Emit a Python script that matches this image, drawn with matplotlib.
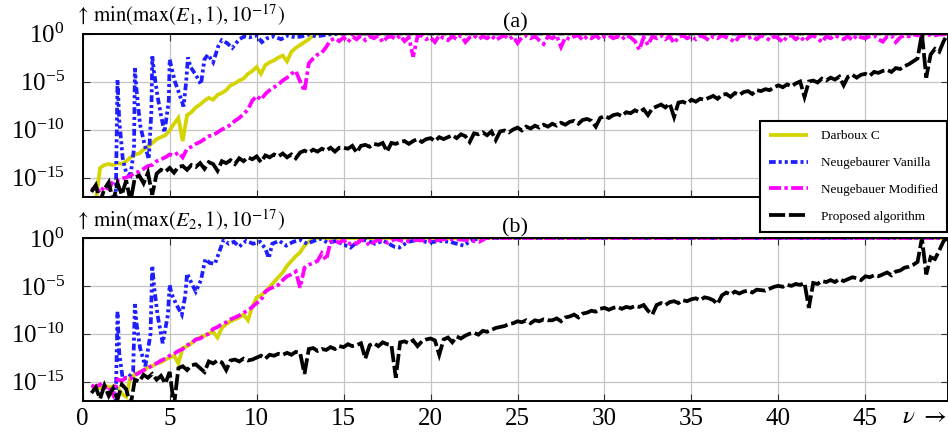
import numpy as np
import matplotlib
matplotlib.use("Agg")
import matplotlib.pyplot as plt
from matplotlib.lines import Line2D
from matplotlib.ticker import NullLocator

plt.rcParams["font.family"] = ["Liberation Serif", "DejaVu Serif"]
plt.rcParams["mathtext.fontset"] = "stix"

# sampling step (in nu) of the tabulated log10 error curves
STEP = 0.25

labels = ["Darboux C", "Neugebaurer Vanilla", "Neugebauer Modified", "Proposed algorithm"]

# ---------------- panel (a): log10 min(max(E1,1),1e-17) ----------------
a_darboux_nu0 = 0.75
a_darboux = [-17.5, -14.0, -13.7, -13.6, -13.7, -13.5, -13.6, -13.3, -12.9, -12.6, -12.5,
             -12.1, -11.8, -11.4, -11.0, -10.8, -10.6, -10.1, -9.4, -8.8, -11.2, -8.5,
             -8.2, -7.7, -7.4, -7.0, -6.7, -6.9, -6.4, -6.2, -5.9, -5.4, -5.2, -4.9, -4.7,
             -4.2, -3.9, -3.5, -4.2, -3.3, -3.0, -2.8, -2.5, -2.3, -2.9, -1.9, -1.5, -1.2,
             -0.9, -0.6, -0.2, 0.0]
a_darboux_tail_nu = [49.75]
a_darboux_tail = [0.0]

a_vanilla_nu = [1.9, 2.0, 2.1, 2.3, 2.5, 2.75, 2.95, 3.0, 3.1, 3.3, 3.55, 3.8, 3.95, 4.0, 4.1,
                4.3, 4.5, 4.7, 4.95, 5.0, 5.1, 5.3, 5.5, 5.8, 5.95, 6.05, 6.2, 6.5, 6.8, 7.0,
                7.2, 7.5, 7.8, 8.0, 8.3, 8.6, 9.0, 9.3, 9.6, 10.0, 10.3, 10.6, 11.0, 11.4,
                11.8, 12.2, 12.6, 13.0, 13.4, 13.8, 14.2, 15.0, 49.75]
a_vanilla = [-17.5, -4.8, -9.0, -13.0, -14.5, -14.8, -12.0, -3.6, -6.0, -9.5, -11.5, -13.1,
             -8.0, -2.4, -4.0, -6.5, -8.5, -10.3, -7.0, -2.7, -3.5, -5.0, -6.0, -7.6, -5.0,
             -2.5, -3.5, -4.3, -5.3, -2.7, -2.2, -3.0, -1.3, -0.7, -1.0, -1.5, -0.6, -0.3,
             -0.4, -0.2, -0.9, -0.5, -0.3, -0.6, -0.2, -0.4, -0.3, -0.1, -0.3, -0.2, -0.1,
             0.0, 0.0]

a_modified_nu0 = 0.5
a_modified = [-16.3, -16.0,
              -16.6, -15.9, -16.2, -15.4,
              -15.3, -15.1, -15.0, -14.8,
              -14.5, -14.4, -14.1, -13.8,
              -13.7, -13.3, -13.1, -12.9,
              -12.6, -12.7, -12.4, -12.9,
              -12.0, -11.8, -11.5, -11.3,
              -11.0, -10.7, -10.6, -10.3,
              -10.0, -9.8, -9.5, -9.1,
              -8.8, -8.4, -7.9, -7.0,
              -6.5, -6.9, -6.3, -5.9,
              -5.6, -5.3, -4.9, -4.6,
              -4.2, -3.9, -5.0, -6.0,
              -3.1, -2.6, -2.2, -2.0,
              -1.4, -0.7, -0.5, -0.8,
              -0.4, -0.9, -0.3, -0.6,
              -0.2, -0.7, -0.3, -0.5,
              -0.2, -0.9, -0.4, -0.3,
              -0.6, -0.2, -0.8, -0.4,
              -2.4, -0.3, -0.2, -0.6,
              -0.4, -0.9, -0.2, -0.5,
              -0.7, -0.3, -0.6, -0.2,
              -0.9, -0.4, -0.2, -0.6,
              -0.3, -0.5, -0.2, -0.7,
              -0.4, -0.2, -0.6, -0.3,
              -1.0, -0.4, -0.2, -0.5,
              -0.3, -0.7, -1.1, -0.3,
              -0.5, -0.2, -1.4, -0.4,
              -0.6, -0.3, -0.2, -0.7,
              -0.3, -0.5, -0.2, -0.6,
              -0.3, -0.2, -0.5, -0.3,
              -0.6, -0.2, -0.4, -0.8,
              -1.7, -0.4, -1.2, -0.3,
              -0.5, -0.2, -0.6, -0.3,
              -1.0, -0.4, -0.2, -0.5,
              -0.3, -0.6, -0.2, -0.4,
              -0.7, -0.3, -0.5, -0.2,
              -0.4, -0.6, -0.9, -0.3,
              -0.2, -0.5, -0.3, -0.6,
              -0.2, -0.4, -0.7, -0.3,
              -0.5, -0.9, -0.3, -0.2,
              -0.6, -0.3, -0.8, -0.4,
              -0.2, -0.5, -0.9, -0.3,
              -0.5, -0.2, -0.4, -0.6,
              -0.3, -0.7, -0.2, -0.4,
              -0.5, -0.3, -0.2, -0.6,
              -0.85, -0.3, -0.2, -0.9,
              -0.4, -0.2, -0.3, -0.1,
              -0.2, -0.1, -0.3, -0.1,
              -0.2, -0.1, -0.1, 0.0]

a_proposed_nu0 = 0.5
a_proposed = [-16.5, -15.8,
              -17.5, -16.2, -15.5, -17.5,
              -15.6, -16.8, -15.3, -17.5,
              -15.0, -14.8, -15.6, -14.5,
              -16.8, -14.6, -14.2, -14.4,
              -14.0, -14.5, -13.9, -13.8,
              -14.2, -13.7, -13.9, -13.5,
              -14.1, -13.4, -13.6, -14.3,
              -13.3, -13.5, -13.2, -13.6,
              -13.0, -13.3, -12.9, -13.1,
              -12.8, -13.4, -12.7, -12.9,
              -12.6, -12.8, -12.5, -12.9,
              -12.6, -13.0, -12.4, -12.2,
              -12.4, -12.1, -12.3, -12.0,
              -12.2, -11.9, -12.3, -11.9,
              -11.9, -12.0, -11.7, -12.4,
              -11.7, -11.6, -11.8, -11.5,
              -11.6, -11.4, -12.3, -11.4,
              -11.5, -11.3, -11.2, -11.5,
              -11.2, -11.0, -11.3, -11.0,
              -10.9, -11.2, -10.8, -11.0,
              -10.8, -10.6, -10.9, -10.5,
              -10.7, -11.3, -10.4, -10.5,
              -10.3, -10.6, -10.2, -11.1,
              -10.2, -10.1, -10.3, -10.0,
              -9.8, -10.1, -9.7, -9.9,
              -9.6, -9.8, -9.5, -9.7,
              -9.4, -9.6, -9.3, -9.5,
              -9.2, -9.1, -9.4, -9.0,
              -8.9, -9.1, -9.7, -8.8,
              -8.6, -8.8, -8.5, -8.4,
              -8.6, -8.2, -8.3, -8.0,
              -8.2, -7.9, -8.5, -7.8,
              -7.6, -7.4, -7.7, -7.3,
              -8.7, -7.2, -7.1, -7.3,
              -6.9, -7.1, -6.8, -6.9,
              -6.7, -6.5, -6.8, -6.4,
              -6.3, -6.6, -6.2, -6.4,
              -6.1, -6.0, -6.3, -5.9,
              -6.0, -5.8, -5.9, -5.6,
              -5.4, -5.6, -5.3, -5.5,
              -5.2, -5.0, -6.6, -5.0,
              -4.9, -5.1, -4.7, -4.9,
              -4.6, -4.8, -4.5, -5.4,
              -4.5, -4.3, -4.6, -4.3,
              -4.2, -4.4, -4.0, -4.1,
              -3.9, -3.8, -4.0, -3.6,
              -3.7, -3.4, -3.2, -2.9,
              -2.6, 0.0, -4.6, -2.2,
              -1.6, -1.9, -0.8, 0.0]

# ---------------- panel (b): log10 min(max(E2,1),1e-17) ----------------
b_darboux_nu0 = 0.5
b_darboux = [-15.6, -15.5, -15.7, -15.4, -15.6, -15.5, -15.6, -16.3, -16.6, -14.5, -14.3,
             -14.0, -13.9, -13.5, -13.4, -13.1, -13.0, -12.7, -12.5, -12.3, -13.1, -11.5,
             -11.3, -11.0, -10.6, -10.4, -10.2, -10.0, -9.8, -10.4, -9.4, -9.0, -8.7, -8.5,
             -8.3, -8.0, -8.6, -7.2, -6.2, -6.0, -5.6, -5.1, -4.6, -4.1, -3.6, -2.9, -2.4,
             -1.9, -1.5, -0.8, -0.4, -0.1, 0.0]
b_darboux_tail_nu = [49.75]
b_darboux_tail = [0.0]

b_vanilla_nu = [1.9, 2.0, 2.1, 2.3, 2.6, 2.9, 3.0, 3.1, 3.3, 3.6, 3.9, 4.0, 4.1, 4.3, 4.6,
                4.9, 5.0, 5.1, 5.4, 5.7, 5.9, 6.0, 6.2, 6.5, 6.8, 7.05, 7.3, 7.6, 7.9, 8.1,
                8.4, 8.7, 9.0, 9.4, 9.8, 10.2, 10.5, 10.7, 10.9, 11.3, 11.7, 12.1, 12.5,
                12.9, 13.3, 13.7, 14.1, 14.6, 15.0, 15.4, 15.8, 16.3, 16.8, 17.3, 17.9,
                18.2, 18.7, 19.3, 19.9, 20.5, 21.1, 21.9, 22.4, 23.0, 49.75]
b_vanilla = [-17.5, -7.7, -12.0, -14.7, -14.6, -14.0, -6.9, -9.0, -11.5, -13.4, -10.0, -2.9,
             -5.0, -8.0, -11.0, -8.0, -4.9, -5.8, -7.0, -8.0, -6.0, -3.7, -4.5, -5.6, -4.4,
             -2.2, -2.6, -2.7, -1.2, -0.2, -0.6, -0.4, -0.9, -0.3, -0.6, -0.4, -1.1, -2.1,
             -0.6, -0.3, -0.8, -0.4, -0.2, -0.6, -0.3, -0.1, -0.5, -0.3, -0.7, -1.0, -0.4,
             -0.2, -0.6, -0.3, -0.9, -1.0, -0.4, -0.2, -0.5, -0.3, -0.4, -0.8, -0.2, 0.0, 0.0]

b_modified_nu0 = 0.5
b_modified = [-15.4, -15.6, -15.3, -15.7, -15.5, -16.4, -14.8, -14.9, -14.6, -14.7, -14.3,
              -14.1, -13.8, -13.6, -13.3, -13.1, -12.8, -12.6, -12.3, -12.1, -11.8, -11.6,
              -11.2, -11.0, -10.6, -10.5, -10.2, -10.0, -9.5, -9.3, -9.0, -8.8, -8.5, -8.3,
              -8.1, -7.8, -7.6, -7.2, -6.8, -6.5, -5.6, -5.3, -5.1, -4.9, -4.4, -4.0, -3.8,
              -3.5, -5.2, -3.1, -2.8, -2.6, -2.4, -1.6, -2.3, -0.4, -0.3, -0.5, -0.2, -0.7,
              -0.4, -0.6, -0.2, -0.3, -0.8, -0.4]
b_modified_tail_nu = [17.0, 17.5, 18.0, 18.5, 19.0, 20.0, 21.0, 22.0, 22.8, 23.2, 49.75]
b_modified_tail = [-0.2, -0.5, -0.1, -0.4, -0.2, -0.3, -0.1, -0.2, -0.4, 0.0, 0.0]

b_proposed_nu0 = 0.5
b_proposed = [-16.2, -15.6,
              -16.8, -15.4, -16.5, -15.7,
              -16.9, -15.3, -15.8, -17.5,
              -14.8, -15.0, -14.3, -14.6,
              -14.2, -14.8, -14.4, -15.2,
              -14.0, -17.5, -13.6, -13.4,
              -13.8, -13.3, -13.2, -13.6,
              -14.0, -12.9, -13.1, -12.8,
              -13.0, -13.8, -12.8, -12.7,
              -12.9, -12.6, -12.8, -12.7,
              -12.5, -12.3, -12.6, -12.2,
              -12.3, -12.1, -12.2, -12.0,
              -12.2, -11.9, -12.0, -14.2,
              -11.6, -11.5, -11.8, -11.6,
              -11.7, -11.4, -11.6, -11.3,
              -11.4, -11.1, -11.3, -11.2,
              -11.0, -12.6, -11.2, -11.0,
              -11.3, -10.9, -11.1, -11.2,
              -14.6, -10.9, -10.8, -11.0,
              -10.7, -11.3, -10.8, -10.6,
              -10.5, -10.7, -12.2, -10.6,
              -10.4, -10.9, -10.3, -10.5,
              -10.2, -10.0, -9.9, -10.1,
              -9.7, -9.8, -9.6, -9.4,
              -9.3, -9.2, -9.0, -8.9,
              -8.7, -8.8, -8.6, -8.9,
              -8.6, -8.7, -8.5, -8.6,
              -8.6, -8.4, -8.7, -8.3,
              -8.2, -8.0, -8.3, -7.9,
              -7.8, -7.6, -7.7, -7.4,
              -7.3, -7.5, -7.3, -7.2,
              -7.4, -7.2, -7.3, -7.1,
              -7.2, -7.0, -7.6, -8.0,
              -7.0, -6.8, -7.0, -6.7,
              -6.6, -6.8, -6.5, -6.6,
              -6.4, -6.3, -6.5, -6.2,
              -6.3, -6.5, -6.9, -6.0,
              -5.7, -5.9, -5.6, -5.8,
              -5.6, -5.5, -5.7, -5.4,
              -5.45, -5.5, -5.3, -5.1,
              -5.0, -5.1, -4.9, -5.0,
              -4.8, -4.9, -4.7, -7.3,
              -4.7, -4.8, -4.5, -4.6,
              -4.4, -4.6, -4.3, -4.5,
              -4.3, -4.1, -4.2, -4.4,
              -4.0, -4.1, -3.9, -4.0,
              -3.8, -3.6, -3.9, -3.5,
              -3.4, -3.1, -3.0, -2.8,
              -2.5, 0.0, -3.8, -2.0,
              -2.2, -1.3, -0.3, 0.0]

x_ticks = [0, 5, 10, 15, 20, 25, 30, 35, 40, 45]
y_ticks = [1e-15, 1e-10, 1e-5, 1e0]


def grid_series(nu0, head, tail_nu=(), tail=()):
    nu = np.concatenate([nu0 + STEP * np.arange(len(head)), np.asarray(tail_nu, float)])
    logv = np.concatenate([np.asarray(head, float), np.asarray(tail, float)])
    return nu, 10.0 ** logv


def point_series(nu, logv):
    return np.asarray(nu, float), 10.0 ** np.asarray(logv, float)


panels = [
    [grid_series(a_darboux_nu0, a_darboux, a_darboux_tail_nu, a_darboux_tail),
     point_series(a_vanilla_nu, a_vanilla),
     grid_series(a_modified_nu0, a_modified),
     grid_series(a_proposed_nu0, a_proposed)],
    [grid_series(b_darboux_nu0, b_darboux, b_darboux_tail_nu, b_darboux_tail),
     point_series(b_vanilla_nu, b_vanilla),
     grid_series(b_modified_nu0, b_modified, b_modified_tail_nu, b_modified_tail),
     grid_series(b_proposed_nu0, b_proposed)],
]

LW = 2.7
styles = [
    dict(color="#d4d400", linestyle="-"),
    dict(color="#1e1eff", dashes=[1.8, 0.8, 0.8, 0.8, 0.8, 0.8]),
    dict(color="#ff00ff", dashes=[3.2, 0.9, 0.9, 0.9]),
    dict(color="black", dashes=[4.3, 1.0]),
]

W, H = 948, 433
fig = plt.figure(figsize=(W / 100, H / 100), dpi=100)

x0 = 82.7 / W
ax_a = fig.add_axes([x0, 1 - 196.7 / H, 1 - x0, 163.2 / H])
ax_b = fig.add_axes([x0, 1 - 400.7 / H, 1 - x0, 162.7 / H])

titles = ["(a)", "(b)"]
ylabels = [r"$\uparrow\,\mathrm{min}(\mathrm{max}(E_1,1),10^{-17})$",
           r"$\uparrow\,\mathrm{min}(\mathrm{max}(E_2,1),10^{-17})$"]

for ax, series, title, ylab in zip([ax_a, ax_b], panels, titles, ylabels):
    for (nu, val), st in zip(series, styles):
        ax.plot(nu, val, lw=LW, solid_capstyle="butt", dash_capstyle="butt",
                solid_joinstyle="miter", dash_joinstyle="miter", **st)
    ax.set_yscale("log")
    ax.set_ylim(1e-17, 1e0)
    ax.set_xlim(0, 49.75)
    ax.set_yticks(y_ticks)
    ax.yaxis.set_minor_locator(NullLocator())
    ax.set_xticks(x_ticks)
    ax.grid(True, color="#c4c4c4", lw=0.9)
    ax.set_axisbelow(True)
    ax.tick_params(direction="in", length=5, width=0.8, color="#333333",
                   top=True, right=True, labelsize=18)
    ax.tick_params(axis="y", pad=13)
    for sp in ax.spines.values():
        sp.set_linewidth(1.4)
        sp.set_color("black")
    ax.set_title(title, fontsize=16, pad=4)
    pos = ax.get_position()
    fig.text(74 / W, pos.y1 + 18 / H, ylab, fontsize=15, ha="left", va="center")

ax_a.tick_params(labelbottom=False)
ax_b.tick_params(axis="x", pad=5)

fig.text(947 / W, 1 - 417 / H, r"$\nu\ \rightarrow$", fontsize=18, ha="right", va="center")

handles = [Line2D([], [], lw=LW, solid_capstyle="butt", dash_capstyle="butt", **st)
           for st in styles]
leg = fig.legend(handles, labels, loc="upper right", bbox_to_anchor=(947 / W, 1 - 121 / H),
                 borderaxespad=0, fontsize=9.5, handlelength=2.9, labelspacing=1.1,
                 handletextpad=1.0, borderpad=0.7, frameon=True, fancybox=False,
                 framealpha=1, edgecolor="black")
leg.get_frame().set_linewidth(1.5)

fig.savefig("out.png", dpi=100)
